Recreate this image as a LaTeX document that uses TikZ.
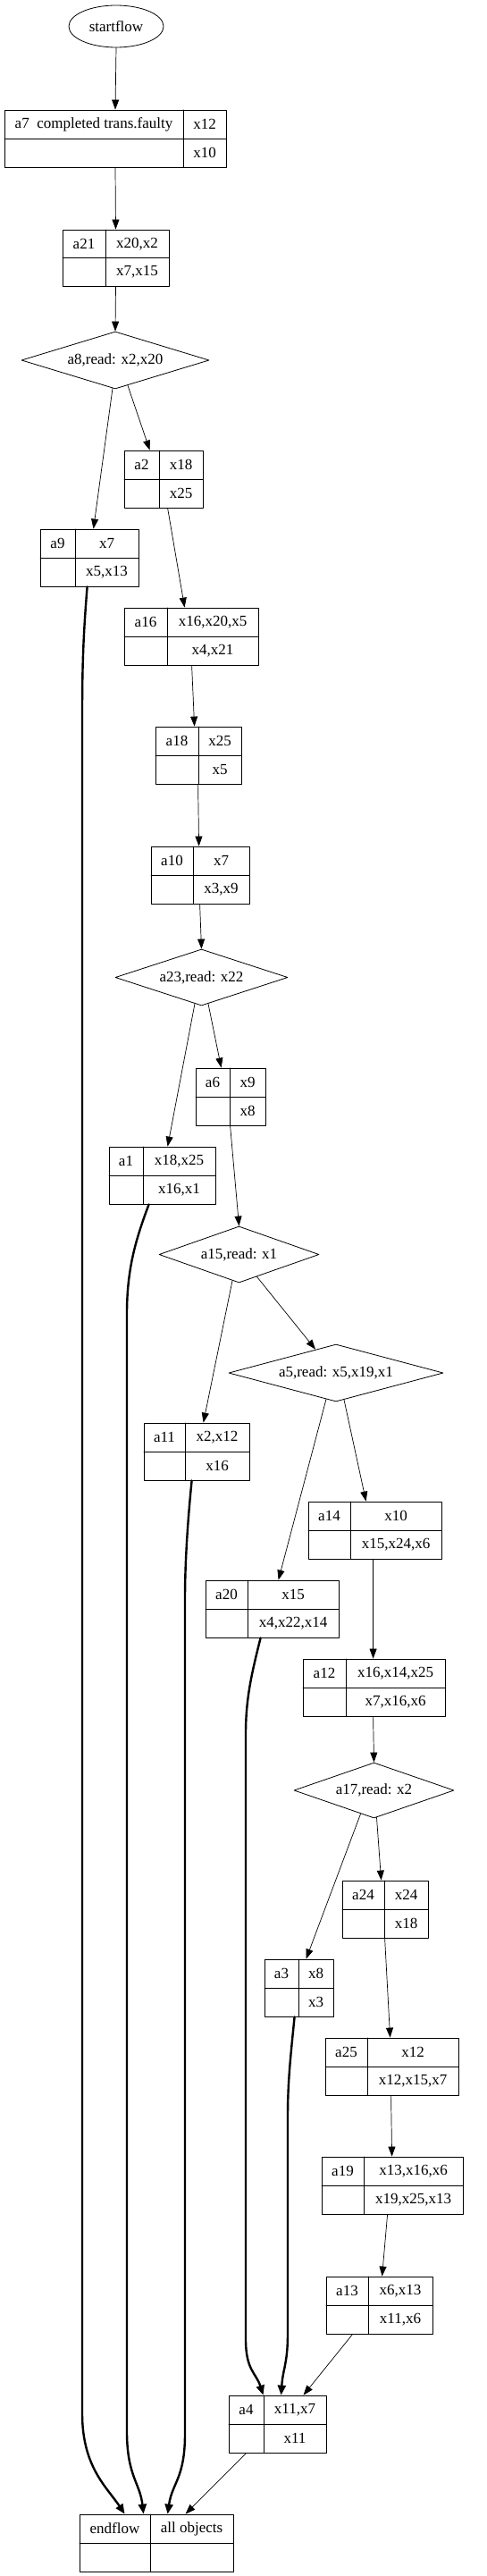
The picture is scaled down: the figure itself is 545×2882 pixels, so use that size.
\documentclass[tikz,border=0pt]{standalone}
\usepackage{fontspec}
\setmainfont{Liberation Serif}
\usetikzlibrary{shapes.geometric,arrows.meta}
\newcommand{\recnode}[9]{%
  \node[recbox,minimum width={(#4-#2)*1pt},minimum height={(#5-#3)*1pt}] (#1) at ({(#2+#4)/2},{(#3+#5)/2}) {};
  \draw[recline] (#6,#3) -- (#6,#5);
  \draw[recline] (#2,{(#3+#5)/2}) -- (#4,{(#3+#5)/2});
  \node (#1-l) at ({(#2+#6)/2},{(3*#3+#5)/4}) {#7};
  \node (#1-t) at ({(#6+#4)/2},{(3*#3+#5)/4}) {#8};
  \node (#1-b) at ({(#6+#4)/2},{(#3+3*#5)/4}) {#9};
}
\begin{document}
\begin{tikzpicture}[x=1pt,y=-1pt,line cap=round,line join=round,
  every node/.style={inner sep=0pt,font=\fontsize{17}{19}\selectfont},
  recbox/.style={draw,line width=0.8pt,rectangle},
  recline/.style={line width=0.8pt},
  cond/.style={draw,line width=0.8pt,diamond,aspect=3.3},
  link/.style={line width=0.7pt,-{Triangle[length=11pt,width=8pt]}},
  objflow/.style={line width=2.4pt,-{Triangle[length=11pt,width=9pt]}}]
  \useasboundingbox (0,0) rectangle (545,2882);
  \node[draw,ellipse,line width=0.8pt,minimum width=106pt,minimum height=47pt] (startflow) at (130,29.5) {startflow};
  \recnode{a7}{5}{123}{253}{187}{205}{a7\ \ completed trans.faulty}{x12}{x10}
  \recnode{a21}{70}{257}{189}{320}{118}{a21}{x20,x2}{x7,x15}
  \node[cond,minimum width=210pt,minimum height=64pt] (a8) at (129,403) {a8,read: x2,x20};
  \recnode{a2}{139}{504}{227}{568}{178}{a2}{x18}{x25}
  \recnode{a9}{45}{592}{155}{656}{84}{a9}{x7}{x5,x13}
  \recnode{a16}{139}{680}{289}{744}{187}{a16}{x16,x20,x5}{x4,x21}
  \recnode{a18}{174}{813}{270}{877}{222}{a18}{x25}{x5}
  \recnode{a10}{169}{947}{279}{1011}{216}{a10}{x7}{x3,x9}
  \node[cond,minimum width=193pt,minimum height=63pt] (a23) at (225.5,1093.5) {a23,read: x22};
  \recnode{a6}{219}{1195}{297}{1259}{257}{a6}{x9}{x8}
  \recnode{a1}{122}{1283}{241}{1347}{160}{a1}{x18,x25}{x16,x1}
  \node[cond,minimum width=179pt,minimum height=63pt] (a15) at (267.5,1403.5) {a15,read: x1};
  \node[cond,minimum width=240pt,minimum height=64pt] (a5) at (376,1536) {a5,read: x5,x19,x1};
  \recnode{a11}{161}{1592}{279}{1656}{207}{a11}{x2,x12}{x16}
  \recnode{a14}{345}{1680}{494}{1744}{392}{a14}{x10}{x15,x24,x6}
  \recnode{a20}{230}{1768}{379}{1832}{277}{a20}{x15}{x4,x22,x14}
  \recnode{a12}{339}{1856}{498}{1920}{387}{a12}{x16,x14,x25}{x7,x16,x6}
  \node[cond,minimum width=179pt,minimum height=62pt] (a17) at (418.5,2003) {a17,read: x2};
  \recnode{a24}{383}{2104}{479}{2168}{430}{a24}{x24}{x18}
  \recnode{a3}{296}{2192}{373}{2256}{334}{a3}{x8}{x3}
  \recnode{a25}{364}{2280}{513}{2344}{411}{a25}{x12}{x12,x15,x7}
  \recnode{a19}{360}{2413}{518}{2477}{407}{a19}{x13,x16,x6}{x19,x25,x13}
  \recnode{a13}{365}{2547}{484}{2611}{412}{a13}{x6,x13}{x11,x6}
  \recnode{a4}{256}{2680}{365}{2744}{295}{a4}{x11,x7}{x11}
  \recnode{endflow}{89}{2813}{261}{2877}{168}{endflow}{all objects}{}

  \draw[link] (startflow.south) -- (a7.north);
  \draw[link] (a7.south) -- (a21.north);
  \draw[link] (a21.south) -- (a8.north);
  \draw[link] ([xshift=-3pt,yshift=1pt]a8.south) -- ([xshift=60pt]a9.north west);
  \draw[link] ([xshift=14pt,yshift=4pt]a8.south) -- ([xshift=29pt]a2.north west);
  \draw[link] ([xshift=49pt]a2.south west) -- ([xshift=68pt]a16.north west);
  \draw[link] ([xshift=76pt]a16.south west) -- ([xshift=44pt]a18.north west);
  \draw[link] ([xshift=48pt]a18.south west) -- ([xshift=54pt]a10.north west);
  \draw[link] ([xshift=55pt]a10.south west) -- (a23.north);
  \draw[link] ([xshift=-7.5pt,yshift=2.5pt]a23.south) -- ([xshift=66pt]a1.north west);
  \draw[link] ([xshift=7.5pt,yshift=2.5pt]a23.south) -- ([xshift=29pt]a6.north west);
  \draw[link] ([xshift=39pt]a6.south west) -- (a15.north);
  \draw[link] ([xshift=-7.5pt,yshift=2.5pt]a15.south) -- ([xshift=67pt]a11.north west);
  \draw[link] ([xshift=20pt,yshift=7pt]a15.south) -- ([xshift=-23pt,yshift=-6pt]a5.north);
  \draw[link] ([xshift=-11pt,yshift=3pt]a5.south) -- ([xshift=82pt]a20.north west);
  \draw[link] ([xshift=9pt,yshift=2.4pt]a5.south) -- ([xshift=65pt]a14.north west);
  \draw[link] ([xshift=73pt]a14.south west) -- ([xshift=79pt]a12.north west);
  \draw[link] ([xshift=79pt]a12.south west) -- (a17.north);
  \draw[link] ([xshift=-15pt,yshift=5pt]a17.south) -- ([xshift=47pt]a3.north west);
  \draw[link] ([xshift=3pt,yshift=1pt]a17.south) -- ([xshift=44pt]a24.north west);
  \draw[link] ([xshift=48pt]a24.south west) -- ([xshift=73pt]a25.north west);
  \draw[link] ([xshift=74pt]a25.south west) -- ([xshift=79pt]a19.north west);
  \draw[link] ([xshift=74pt]a19.south west) -- ([xshift=63pt]a13.north west);
  \draw[link] ([xshift=30pt]a13.south west) -- ([xshift=84pt]a4.north west);
  \draw[link] ([xshift=20pt]a4.south west) -- ([xshift=119pt]endflow.north west);

  \draw[objflow] ([xshift=53pt]a9.south west) .. controls +(-4,50) and +(0,-60) .. (92,800) -- (92,2700) .. controls +(0,60) and +(-20,-30) .. ([xshift=51pt]endflow.north west);
  \draw[objflow] ([xshift=45pt]a1.south west) .. controls +(-15,40) and +(0,-50) .. (142,1470) -- (142,2720) .. controls +(0,50) and +(-4,-35) .. ([xshift=72pt]endflow.north west);
  \draw[objflow] ([xshift=54pt]a11.south west) .. controls +(-5,50) and +(0,-40) .. (207,1790) -- (207,2723) .. controls +(0,50) and +(5,-35) .. ([xshift=99pt]endflow.north west);
  \draw[objflow] ([xshift=62pt]a20.south west) .. controls +(-10,40) and +(0,-40) .. (275,1940) -- (275,2617) .. controls +(0,35) and +(-8,-25) .. ([xshift=39pt]a4.north west);
  \draw[objflow] ([xshift=34pt]a3.south west) .. controls +(-5,50) and +(0,-40) .. (322,2370) -- (322,2610) .. controls +(0,35) and +(2,-30) .. ([xshift=59pt]a4.north west);
\end{tikzpicture}
\end{document}
